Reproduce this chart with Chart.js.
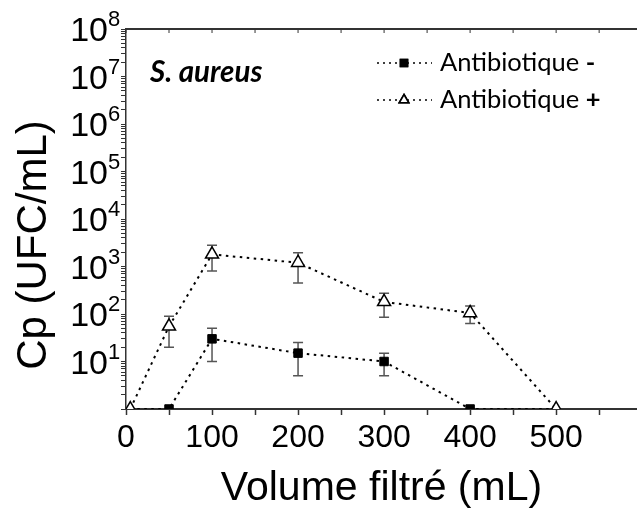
<!DOCTYPE html>
<html>
<head>
<meta charset="utf-8">
<script src="https://cdn.jsdelivr.net/npm/chart.js@4.4.1/dist/chart.umd.min.js"></script>
<style>
  body { margin: 0; background: #fff; overflow: hidden; }
</style>
</head>
<body>
<canvas id="chart" width="637" height="513"></canvas>
<script>
// Cp (UFC/mL) of S. aureus after filtration, with / without antibiotic
const volumes = [5, 50, 100, 200, 300, 400, 500];
const cpMinus = [1, 1, 30, 15, 10, 1, 1];
const errMinus = [0, 0, 20, 10, 5, 0, 0];
const cpPlus = [1, 55, 1800, 1200, 180, 105, 1];
const errPlus = [0, 35, 1000, 750, 95, 42, 0];
// minus markers at 5 and 500 sit under the triangles
const minusRadius = [0, 6, 6, 6, 6, 6, 0];

const xTicks = [0, 50, 100, 150, 200, 250, 300, 350, 400, 450, 500, 550];
const xLabels = [0, 100, 200, 300, 400, 500];
const yDecades = [1, 10, 100, 1000, 10000, 100000, 1000000, 10000000, 100000000];

const AXIS_FONT = '"Liberation Sans", Arial, sans-serif';
const LEGEND_FONT = 'Lato, "Open Sans", sans-serif';

// all log ticks 1..9 x 10^n
const yTicks = [];
for (let i = 0; i < yDecades.length - 1; i++) {
    for (let k = 1; k < 10; k++) yTicks.push(k * yDecades[i]);
}
yTicks.push(yDecades[yDecades.length - 1]);

const errorBars = {
    id: 'errorBars',
    beforeDatasetsDraw(chart) {
        const { ctx, scales: { x, y } } = chart;
        ctx.save();
        ctx.strokeStyle = '#555';
        ctx.lineWidth = 1.5;
        [[cpMinus, errMinus], [cpPlus, errPlus]].forEach(([vals, errs]) => {
            vals.forEach((v, i) => {
                if (!errs[i]) return;
                const px = x.getPixelForValue(volumes[i]);
                const top = y.getPixelForValue(v + errs[i]);
                const bot = y.getPixelForValue(v - errs[i]);
                ctx.beginPath();
                ctx.moveTo(px, top); ctx.lineTo(px, bot);
                ctx.moveTo(px - 5, top); ctx.lineTo(px + 5, top);
                ctx.moveTo(px - 5, bot); ctx.lineTo(px + 5, bot);
                ctx.stroke();
            });
        });
        ctx.restore();
    }
};

function legendRow(ctx, yPos, style, text, sign) {
    ctx.save();
    ctx.strokeStyle = '#000';
    ctx.lineWidth = 1.6;
    ctx.setLineDash([2, 4]);
    ctx.beginPath();
    ctx.moveTo(377, yPos); ctx.lineTo(432, yPos);
    ctx.stroke();
    ctx.setLineDash([]);
    Chart.helpers.drawPoint(ctx, {
        pointStyle: style, radius: style === 'rect' ? 5 : 5.5, borderWidth: 1.3
    }, 404, yPos);
    ctx.fill();
    ctx.stroke();
    ctx.fillStyle = '#000';
    ctx.font = '25.5px ' + LEGEND_FONT;
    ctx.textBaseline = 'middle';
    ctx.fillText(text, 440, yPos);
    const w = ctx.measureText(text).width;
    ctx.font = 'bold 25.5px ' + LEGEND_FONT;
    ctx.fillText(sign, 440 + w, yPos);
    ctx.restore();
}

const decorations = {
    id: 'decorations',
    afterDraw(chart) {
        const { ctx, chartArea: area, scales: { x, y } } = chart;
        ctx.save();

        // top frame line with small inward ticks
        ctx.strokeStyle = '#333';
        ctx.lineWidth = 2;
        ctx.beginPath();
        ctx.moveTo(area.left, area.top); ctx.lineTo(area.right, area.top);
        ctx.stroke();
        ctx.lineWidth = 1;
        ctx.beginPath();
        xTicks.forEach(v => {
            const px = x.getPixelForValue(v);
            ctx.moveTo(px, area.top); ctx.lineTo(px, area.top + 4);
        });
        ctx.stroke();

        // decade labels 10^n
        ctx.fillStyle = '#000';
        yDecades.forEach(d => {
            const n = Math.round(Math.log10(d));
            if (n === 0) return;
            const py = y.getPixelForValue(d);
            ctx.font = '34px ' + AXIS_FONT;
            ctx.textAlign = 'right';
            ctx.textBaseline = 'middle';
            ctx.fillText('10', 108, py + 3);
            ctx.font = '22px ' + AXIS_FONT;
            ctx.textAlign = 'left';
            ctx.textBaseline = 'alphabetic';
            ctx.fillText(String(n), 108, py - 3);
        });

        // y title
        ctx.save();
        ctx.translate(34, 245);
        ctx.rotate(-Math.PI / 2);
        ctx.font = '42px ' + AXIS_FONT;
        ctx.textAlign = 'center';
        ctx.textBaseline = 'middle';
        ctx.fillText('Cp (UFC/mL)', 0, 0);
        ctx.restore();

        // species tag
        ctx.font = 'italic bold 29.5px ' + LEGEND_FONT;
        ctx.textAlign = 'left';
        ctx.textBaseline = 'middle';
        ctx.fillText('S. aureus', 150, 72);
        ctx.restore();

        ctx.fillStyle = '#000';
        legendRow(ctx, 63, 'rect', 'Antibiotique ', '-');
        ctx.fillStyle = '#fff';
        legendRow(ctx, 100, 'triangle', 'Antibiotique ', '+');
    }
};

new Chart(document.getElementById('chart'), {
    type: 'line',
    data: {
        labels: volumes,
        datasets: [
            {
                label: 'Antibiotique -',
                data: volumes.map((v, i) => ({ x: v, y: cpMinus[i] })),
                borderColor: '#000',
                borderWidth: 2,
                borderDash: [2.5, 4.5],
                pointStyle: 'rect',
                pointRadius: minusRadius,
                pointBackgroundColor: '#000',
                pointBorderColor: '#000',
                pointBorderWidth: 1,
                order: 2
            },
            {
                label: 'Antibiotique +',
                data: volumes.map((v, i) => ({ x: v, y: cpPlus[i] })),
                borderColor: '#000',
                borderWidth: 2,
                borderDash: [2.5, 4.5],
                pointStyle: 'triangle',
                pointRadius: 7.5,
                pointBackgroundColor: '#fff',
                pointBorderColor: '#000',
                pointBorderWidth: 1.5,
                order: 1
            }
        ]
    },
    options: {
        responsive: false,
        animation: false,
        events: [],
        layout: { autoPadding: false, padding: { top: 29, right: 0, left: 0, bottom: 0 } },
        plugins: { legend: { display: false }, tooltip: { enabled: false } },
        scales: {
            x: {
                type: 'linear',
                min: 0,
                max: 594,
                afterBuildTicks: s => { s.ticks = xTicks.map(v => ({ value: v })); },
                afterFit: s => { s.height = 104; },
                ticks: {
                    autoSkip: false,
                    maxRotation: 0,
                    padding: 4,
                    color: '#000',
                    font: { family: AXIS_FONT, size: 32 },
                    callback: v => xLabels.includes(v) ? String(v) : ''
                },
                grid: { drawOnChartArea: false, tickLength: 6, tickColor: '#333', tickWidth: 1.5 },
                border: { color: '#333', width: 2 },
                title: {
                    display: true,
                    text: 'Volume filtré (mL)',
                    color: '#000',
                    font: { family: AXIS_FONT, size: 41 },
                    padding: { top: 0, bottom: 0 }
                }
            },
            y: {
                type: 'logarithmic',
                min: 1,
                max: 1e8,
                afterBuildTicks: s => { s.ticks = yTicks.map(v => ({ value: v, major: yDecades.includes(v) })); },
                afterFit: s => { s.width = 126; },
                ticks: {
                    autoSkip: false,
                    callback: () => ''
                },
                grid: { drawOnChartArea: false, tickLength: 5, tickColor: '#333', tickWidth: 1 },
                border: { color: '#333', width: 1.5 }
            }
        }
    },
    plugins: [errorBars, decorations]
});
</script>
</body>
</html>
